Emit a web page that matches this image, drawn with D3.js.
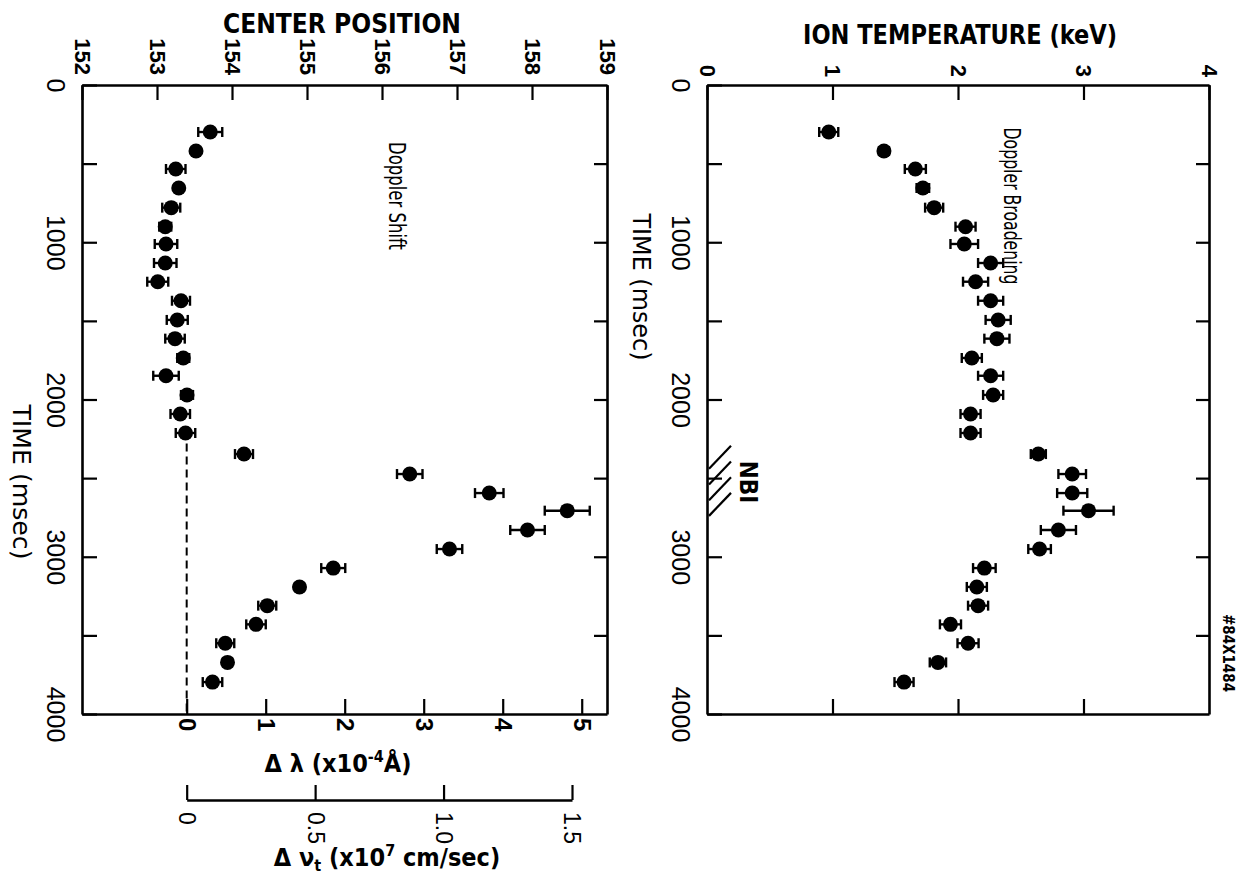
<!DOCTYPE html>
<html>
<head>
<meta charset="utf-8">
<script src="https://cdn.jsdelivr.net/npm/d3@7"></script>
<style>
  body { margin: 0; background: #fff; }
  svg { display: block; }
  .lbl { font-family: "DejaVu Sans Condensed", "Liberation Sans Narrow", "DejaVu Sans", sans-serif; fill: #000; }
  .num { font-family: "Liberation Sans", "DejaVu Sans", sans-serif; fill: #000; }
</style>
</head>
<body>
<div id="chart-area"></div>
<script>
/*
* Doppler shift / Doppler broadening vs time (rotated figure)
*/

// ---- data ----
const timeMs = [299, 420, 534, 655, 780, 901, 1011, 1132, 1251, 1372, 1494, 1613, 1736, 1849, 1971,
                2092, 2213, 2347, 2474, 2595, 2707, 2830, 2951, 3072, 3192, 3311, 3430, 3550, 3672, 3797]

// Doppler shift panel: line centre position and its error
const centerPos = [153.71, 153.52, 153.25, 153.29, 153.19, 153.11, 153.12, 153.11, 153.01, 153.32,
                   153.27, 153.24, 153.35, 153.12, 153.40, 153.31, 153.38, 154.16, 156.37, 157.43,
                   158.47, 157.94, 156.90, 155.35, 154.90, 154.47, 154.32, 153.91, 153.94, 153.74]
const centerErr = [0.16, 0.05, 0.13, 0.05, 0.12, 0.08, 0.15, 0.15, 0.14, 0.12,
                   0.14, 0.13, 0.08, 0.17, 0.08, 0.13, 0.13, 0.12, 0.17, 0.19,
                   0.30, 0.23, 0.17, 0.16, 0.06, 0.12, 0.13, 0.12, 0.06, 0.13]

// Doppler broadening panel: ion temperature (keV) and error
const ionTemp = [0.97, 1.41, 1.66, 1.72, 1.81, 2.06, 2.05, 2.26, 2.14, 2.26,
                 2.32, 2.31, 2.11, 2.26, 2.28, 2.10, 2.10, 2.64, 2.91, 2.91,
                 3.04, 2.80, 2.65, 2.21, 2.15, 2.16, 1.94, 2.08, 1.84, 1.57]
const ionTempErr = [0.076, 0.04, 0.084, 0.05, 0.072, 0.08, 0.11, 0.1, 0.1, 0.1,
                    0.1, 0.1, 0.08, 0.1, 0.08, 0.08, 0.08, 0.06, 0.11, 0.12,
                    0.2, 0.14, 0.09, 0.09, 0.08, 0.08, 0.084, 0.084, 0.065, 0.076]

// axes
const timeTicks = [0, 500, 1000, 1500, 2000, 2500, 3000, 3500, 4000]
const timeLabels = [0, 1000, 2000, 3000, 4000]
const centerTicks = [152, 153, 154, 155, 156, 157, 158, 159]
const lambdaTicks = [0, 1, 2, 3, 4, 5]
const lambdaDomain = [-1.325, 5.32]
const velocityTicks = [0, 0.5, 1.0, 1.5]
const velocityLabels = ["0", "0.5", "1.0", "1.5"]
const tempTicks = [0, 1, 2, 3, 4]

// shaded NBI interval and start of the dashed zero line
const nbiInterval = [2290, 2760]
const zeroLineStart = 2280

// ---- layout ----
const W = 1243, H = 879
const panelL = { x0: 82, x1: 607 }
const panelR = { x0: 707, x1: 1209 }
const yTop = 85, yBottom = 714

const svg = d3.select("#chart-area")
	.append("svg")
		.attr("width", W)
		.attr("height", H)

// scales
const y = d3.scaleLinear().domain([0, 4000]).range([yTop, yBottom])
const xCenter = d3.scaleLinear().domain([152, 159]).range([panelL.x0, panelL.x1])
const xLambda = d3.scaleLinear().domain(lambdaDomain).range([panelL.x0, panelL.x1])
const xVel = d3.scaleLinear().domain([0, 1.5]).range([xLambda(0), 572])
const xTemp = d3.scaleLinear().domain([0, 4]).range([panelR.x0, panelR.x1])
const intFmt = d3.format("d")

function styleAxis(g){
	g.select(".domain").attr("stroke", "#000").attr("stroke-width", 2.6)
	g.selectAll(".tick line").attr("stroke", "#000").attr("stroke-width", 2.2)
}

// rotated tick labels (read top to bottom)
function rotLabels(g, where, gap, size, weight){
	let t = g.selectAll(".tick text")
		.attr("class", "num")
		.attr("font-size", size)
		.attr("font-weight", weight || "normal")
		.attr("transform", "rotate(90)")
		.attr("dy", "0.35em")
	if (where === "above"){
		t.attr("x", -gap).attr("y", 0).attr("text-anchor", "end")
	} else if (where === "below"){
		t.attr("x", gap).attr("y", 0).attr("text-anchor", "start")
	} else {
		t.attr("x", 0).attr("y", gap).attr("text-anchor", "middle")
	}
}

function timeAxes(x0, x1){
	let gl = svg.append("g")
		.attr("transform", `translate(${x0},0)`)
		.call(d3.axisLeft(y).tickValues(timeTicks).tickSizeInner(-15).tickSizeOuter(0)
			.tickFormat(d => timeLabels.includes(d) ? d : ""))
	styleAxis(gl)
	rotLabels(gl, "left", 26, 25)

	let gr = svg.append("g")
		.attr("transform", `translate(${x1},0)`)
		.call(d3.axisRight(y).tickValues(timeTicks.slice(1, -1)).tickSizeInner(-13).tickSizeOuter(0).tickFormat(""))
	styleAxis(gr)
}

// ---- left panel: Doppler shift ----
timeAxes(panelL.x0, panelL.x1)

let gTopL = svg.append("g")
	.attr("transform", `translate(0,${yTop})`)
	.call(d3.axisTop(xCenter).tickValues(centerTicks).tickFormat(intFmt).tickSizeInner(-15).tickSizeOuter(0))
styleAxis(gTopL)
rotLabels(gTopL, "above", 10, 22, "bold")

let gBotL = svg.append("g")
	.attr("transform", `translate(0,${yBottom})`)
	.call(d3.axisBottom(xLambda).tickValues(lambdaTicks).tickFormat(intFmt).tickSizeInner(-15).tickSizeOuter(0))
styleAxis(gBotL)
rotLabels(gBotL, "below", 4, 24, "bold")

// velocity axis under the panel
let gVel = svg.append("g")
	.attr("transform", "translate(0,800)")
	.call(d3.axisBottom(xVel).tickValues(velocityTicks).tickSizeInner(-15).tickSizeOuter(0)
		.tickFormat((d, i) => velocityLabels[i]))
styleAxis(gVel)
rotLabels(gVel, "below", 12, 23)

// dashed zero line
svg.append("line")
	.attr("x1", xLambda(0)).attr("x2", xLambda(0))
	.attr("y1", y(zeroLineStart)).attr("y2", y(4000))
	.attr("stroke", "#000")
	.attr("stroke-width", 2)
	.attr("stroke-dasharray", "8,5")

// ---- right panel: Doppler broadening ----
timeAxes(panelR.x0, panelR.x1)

let gTopR = svg.append("g")
	.attr("transform", `translate(0,${yTop})`)
	.call(d3.axisTop(xTemp).tickValues(tempTicks).tickFormat(intFmt).tickSizeInner(-15).tickSizeOuter(0))
styleAxis(gTopR)
rotLabels(gTopR, "above", 8, 22, "bold")

let gBotR = svg.append("g")
	.attr("transform", `translate(0,${yBottom})`)
	.call(d3.axisBottom(xTemp).tickValues([1, 2, 3]).tickSizeInner(-15).tickSizeOuter(0).tickFormat(""))
styleAxis(gBotR)

// NBI hatch
let hatch = svg.append("g").attr("stroke", "#000").attr("stroke-width", 2.2)
d3.range(nbiInterval[0] + 150, nbiInterval[1], 100).forEach(t => {
	hatch.append("line")
		.attr("x1", panelR.x0 + 2).attr("y1", y(t))
		.attr("x2", panelR.x0 + 24).attr("y2", y(t) - 23)
})
svg.append("text")
	.attr("class", "lbl")
	.attr("transform", `translate(748,${y((nbiInterval[0] + nbiInterval[1]) / 2)}) rotate(90)`)
	.attr("text-anchor", "middle")
	.attr("dy", "0.35em")
	.attr("font-size", 24)
	.attr("font-weight", "bold")
	.text("NBI")

// ---- points with error bars ----
function drawPoints(xs, vals, errs){
	let pts = svg.append("g")
		.selectAll("g")
		.data(timeMs.map((t, i) => ({ t: t, v: vals[i], e: errs[i] })))
		.enter()
		.append("g")
			.attr("stroke", "#000")
			.attr("stroke-width", 2.4)

	pts.append("line")
		.attr("x1", d => xs(d.v - d.e)).attr("x2", d => xs(d.v + d.e))
		.attr("y1", d => y(d.t)).attr("y2", d => y(d.t))
	pts.append("line")
		.attr("x1", d => xs(d.v - d.e)).attr("x2", d => xs(d.v - d.e))
		.attr("y1", d => y(d.t) - 5).attr("y2", d => y(d.t) + 5)
	pts.append("line")
		.attr("x1", d => xs(d.v + d.e)).attr("x2", d => xs(d.v + d.e))
		.attr("y1", d => y(d.t) - 5).attr("y2", d => y(d.t) + 5)
	pts.append("circle")
		.attr("cx", d => xs(d.v))
		.attr("cy", d => y(d.t))
		.attr("r", 7.5)
		.attr("fill", "#000")
		.attr("stroke", "none")
}

drawPoints(xCenter, centerPos, centerErr)
drawPoints(xTemp, ionTemp, ionTempErr)

// ---- text labels ----
function rotText(x, yy, size, str, len){
	let t = svg.append("text")
		.attr("class", "lbl")
		.attr("transform", `translate(${x},${yy}) rotate(90)`)
		.attr("text-anchor", "middle")
		.attr("dy", "0.35em")
		.attr("font-size", size)
		.text(str)
	if (len) t.attr("textLength", len).attr("lengthAdjust", "spacingAndGlyphs")
	return t
}

svg.append("text")
	.attr("class", "lbl")
	.attr("x", 342).attr("y", 33)
	.attr("text-anchor", "middle")
	.attr("font-size", 26)
	.attr("font-weight", "bold")
	.attr("textLength", 238)
	.attr("lengthAdjust", "spacingAndGlyphs")
	.text("CENTER POSITION")

svg.append("text")
	.attr("class", "lbl")
	.attr("x", 960).attr("y", 44)
	.attr("text-anchor", "middle")
	.attr("font-size", 26)
	.attr("font-weight", "bold")
	.attr("textLength", 314)
	.attr("lengthAdjust", "spacingAndGlyphs")
	.text("ION TEMPERATURE (keV)")

rotText(22, 482, 25, "TIME (msec)", 155)
rotText(641, 287, 24, "TIME (msec)", 147)
rotText(397, 196, 23, "Doppler Shift", 108)
rotText(1012, 206, 23, "Doppler Broadening", 157)
rotText(1228, 653, 15, "#84X1484").attr("font-weight", "bold")

// delta lambda label
let lamLabel = svg.append("text")
	.attr("class", "lbl")
	.attr("x", 338).attr("y", 772)
	.attr("text-anchor", "middle")
	.attr("font-size", 25)
	.attr("font-weight", "bold")
lamLabel.append("tspan").text("Δ λ (x10")
lamLabel.append("tspan").attr("font-size", 16).attr("dy", -10).text("-4")
lamLabel.append("tspan").attr("dy", 10).text("Å)")

// delta v label
let velLabel = svg.append("text")
	.attr("class", "lbl")
	.attr("x", 387).attr("y", 866)
	.attr("text-anchor", "middle")
	.attr("font-size", 25)
	.attr("font-weight", "bold")
velLabel.append("tspan").text("Δ ν")
velLabel.append("tspan").attr("font-size", 16).attr("dy", 5).text("t")
velLabel.append("tspan").attr("dy", -5).text(" (x10")
velLabel.append("tspan").attr("font-size", 16).attr("dy", -10).text("7")
velLabel.append("tspan").attr("dy", 10).text(" cm/sec)")
</script>
</body>
</html>
